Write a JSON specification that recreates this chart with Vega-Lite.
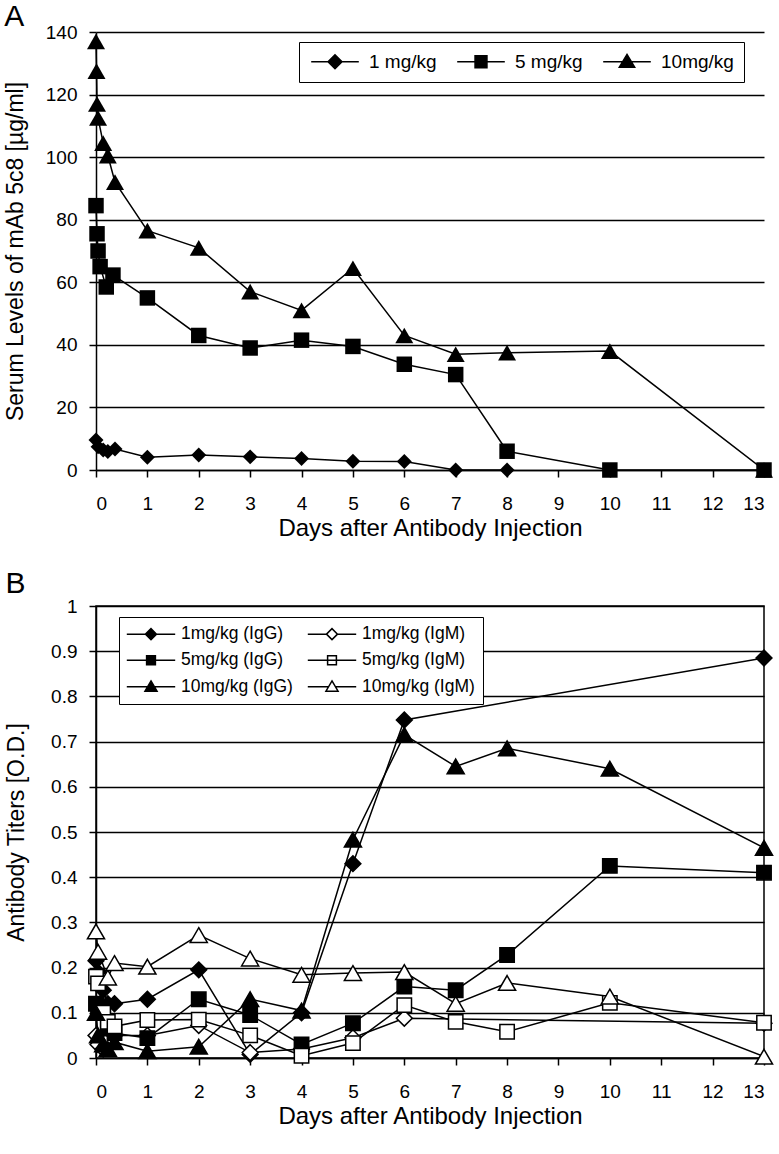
{
  "$schema": "https://vega.github.io/schema/vega-lite/v6.json",
  "background": "white",
  "padding": {"left": 4, "right": 9, "top": 2, "bottom": 0},
  "spacing": 28,
  "resolve": {
    "scale": {"shape": "independent", "fill": "independent"},
    "legend": {"shape": "independent", "fill": "independent"}
  },
  "config": {
    "font": "Liberation Sans",
    "view": {"stroke": null},
    "axis": {
      "labelFont": "Liberation Sans", "titleFont": "Liberation Sans",
      "labelColor": "black", "titleColor": "black",
      "labelFontSize": 19, "titleFontSize": 23, "titleFontWeight": "normal",
      "domainColor": "black", "domainWidth": 1.5,
      "tickColor": "black", "tickWidth": 1.5, "tickSize": 7,
      "gridColor": "black", "gridWidth": 1.3, "gridOpacity": 1
    },
    "legend": {"labelFont": "Liberation Sans", "labelColor": "black"},
    "title": {"font": "Liberation Sans", "fontWeight": "normal", "color": "black", "anchor": "start", "frame": "bounds", "fontSize": 30}
  },
  "datasets": {
    "serum": [
      {"dose": "1 mg/kg", "day": 0, "level": 9.6},
      {"dose": "1 mg/kg", "day": 0.04, "level": 7.4},
      {"dose": "1 mg/kg", "day": 0.14, "level": 6.4},
      {"dose": "1 mg/kg", "day": 0.23, "level": 5.9},
      {"dose": "1 mg/kg", "day": 0.37, "level": 6.7},
      {"dose": "1 mg/kg", "day": 1, "level": 4.1},
      {"dose": "1 mg/kg", "day": 2, "level": 4.8},
      {"dose": "1 mg/kg", "day": 3, "level": 4.2},
      {"dose": "1 mg/kg", "day": 4, "level": 3.7},
      {"dose": "1 mg/kg", "day": 5, "level": 2.8},
      {"dose": "1 mg/kg", "day": 6, "level": 2.7},
      {"dose": "1 mg/kg", "day": 7, "level": 0},
      {"dose": "1 mg/kg", "day": 8, "level": 0},
      {"dose": "5 mg/kg", "day": 0, "level": 84.5},
      {"dose": "5 mg/kg", "day": 0.02, "level": 75.5},
      {"dose": "5 mg/kg", "day": 0.04, "level": 70},
      {"dose": "5 mg/kg", "day": 0.08, "level": 65},
      {"dose": "5 mg/kg", "day": 0.2, "level": 58.5},
      {"dose": "5 mg/kg", "day": 0.33, "level": 62.3},
      {"dose": "5 mg/kg", "day": 1, "level": 55},
      {"dose": "5 mg/kg", "day": 2, "level": 43},
      {"dose": "5 mg/kg", "day": 3, "level": 39},
      {"dose": "5 mg/kg", "day": 4, "level": 41.5},
      {"dose": "5 mg/kg", "day": 5, "level": 39.5},
      {"dose": "5 mg/kg", "day": 6, "level": 33.8},
      {"dose": "5 mg/kg", "day": 7, "level": 30.5},
      {"dose": "5 mg/kg", "day": 8, "level": 6},
      {"dose": "5 mg/kg", "day": 10, "level": 0},
      {"dose": "5 mg/kg", "day": 13, "level": 0},
      {"dose": "10mg/kg", "day": 0, "level": 137},
      {"dose": "10mg/kg", "day": 0.01, "level": 127.5},
      {"dose": "10mg/kg", "day": 0.02, "level": 117},
      {"dose": "10mg/kg", "day": 0.04, "level": 112.5},
      {"dose": "10mg/kg", "day": 0.14, "level": 104.5},
      {"dose": "10mg/kg", "day": 0.23, "level": 100.5},
      {"dose": "10mg/kg", "day": 0.37, "level": 92},
      {"dose": "10mg/kg", "day": 1, "level": 76.5},
      {"dose": "10mg/kg", "day": 2, "level": 71},
      {"dose": "10mg/kg", "day": 3, "level": 57},
      {"dose": "10mg/kg", "day": 4, "level": 51},
      {"dose": "10mg/kg", "day": 5, "level": 64.5},
      {"dose": "10mg/kg", "day": 6, "level": 43},
      {"dose": "10mg/kg", "day": 7, "level": 37},
      {"dose": "10mg/kg", "day": 8, "level": 37.5},
      {"dose": "10mg/kg", "day": 10, "level": 38},
      {"dose": "10mg/kg", "day": 13, "level": 0}
    ],
    "titers": [
      {"group": "1mg/kg (IgG)", "day": 0, "od": 0.215},
      {"group": "1mg/kg (IgG)", "day": 0.04, "od": 0.19},
      {"group": "1mg/kg (IgG)", "day": 0.14, "od": 0.15},
      {"group": "1mg/kg (IgG)", "day": 0.23, "od": 0.12},
      {"group": "1mg/kg (IgG)", "day": 0.36, "od": 0.12},
      {"group": "1mg/kg (IgG)", "day": 1, "od": 0.13},
      {"group": "1mg/kg (IgG)", "day": 2, "od": 0.195},
      {"group": "1mg/kg (IgG)", "day": 3, "od": 0.008},
      {"group": "1mg/kg (IgG)", "day": 4, "od": 0.1},
      {"group": "1mg/kg (IgG)", "day": 5, "od": 0.43},
      {"group": "1mg/kg (IgG)", "day": 6, "od": 0.748},
      {"group": "1mg/kg (IgG)", "day": 13, "od": 0.885},
      {"group": "1mg/kg (IgM)", "day": 0, "od": 0.05},
      {"group": "1mg/kg (IgM)", "day": 0.04, "od": 0.03},
      {"group": "1mg/kg (IgM)", "day": 0.14, "od": 0.02},
      {"group": "1mg/kg (IgM)", "day": 0.23, "od": 0.04},
      {"group": "1mg/kg (IgM)", "day": 0.36, "od": 0.05},
      {"group": "1mg/kg (IgM)", "day": 1, "od": 0.05},
      {"group": "1mg/kg (IgM)", "day": 2, "od": 0.072},
      {"group": "1mg/kg (IgM)", "day": 3, "od": 0.012},
      {"group": "1mg/kg (IgM)", "day": 4, "od": 0.02},
      {"group": "1mg/kg (IgM)", "day": 5, "od": 0.045},
      {"group": "1mg/kg (IgM)", "day": 6, "od": 0.088},
      {"group": "1mg/kg (IgM)", "day": 13, "od": 0.077},
      {"group": "5mg/kg (IgG)", "day": 0, "od": 0.12},
      {"group": "5mg/kg (IgG)", "day": 0.04, "od": 0.1},
      {"group": "5mg/kg (IgG)", "day": 0.14, "od": 0.11},
      {"group": "5mg/kg (IgG)", "day": 0.23, "od": 0.065},
      {"group": "5mg/kg (IgG)", "day": 0.36, "od": 0.055},
      {"group": "5mg/kg (IgG)", "day": 1, "od": 0.044},
      {"group": "5mg/kg (IgG)", "day": 2, "od": 0.13},
      {"group": "5mg/kg (IgG)", "day": 3, "od": 0.095},
      {"group": "5mg/kg (IgG)", "day": 4, "od": 0.03},
      {"group": "5mg/kg (IgG)", "day": 5, "od": 0.077},
      {"group": "5mg/kg (IgG)", "day": 6, "od": 0.158},
      {"group": "5mg/kg (IgG)", "day": 7, "od": 0.15},
      {"group": "5mg/kg (IgG)", "day": 8, "od": 0.228},
      {"group": "5mg/kg (IgG)", "day": 10, "od": 0.425},
      {"group": "5mg/kg (IgG)", "day": 13, "od": 0.41},
      {"group": "5mg/kg (IgM)", "day": 0, "od": 0.18},
      {"group": "5mg/kg (IgM)", "day": 0.04, "od": 0.165},
      {"group": "5mg/kg (IgM)", "day": 0.14, "od": 0.1},
      {"group": "5mg/kg (IgM)", "day": 0.23, "od": 0.08},
      {"group": "5mg/kg (IgM)", "day": 0.36, "od": 0.07},
      {"group": "5mg/kg (IgM)", "day": 1, "od": 0.084},
      {"group": "5mg/kg (IgM)", "day": 2, "od": 0.085},
      {"group": "5mg/kg (IgM)", "day": 3, "od": 0.05},
      {"group": "5mg/kg (IgM)", "day": 4, "od": 0.005},
      {"group": "5mg/kg (IgM)", "day": 5, "od": 0.033},
      {"group": "5mg/kg (IgM)", "day": 6, "od": 0.117},
      {"group": "5mg/kg (IgM)", "day": 7, "od": 0.08},
      {"group": "5mg/kg (IgM)", "day": 8, "od": 0.058},
      {"group": "5mg/kg (IgM)", "day": 10, "od": 0.122},
      {"group": "5mg/kg (IgM)", "day": 13, "od": 0.078},
      {"group": "10mg/kg (IgG)", "day": 0, "od": 0.1},
      {"group": "10mg/kg (IgG)", "day": 0.04, "od": 0.05},
      {"group": "10mg/kg (IgG)", "day": 0.14, "od": 0.03},
      {"group": "10mg/kg (IgG)", "day": 0.23, "od": 0.02},
      {"group": "10mg/kg (IgG)", "day": 0.36, "od": 0.035},
      {"group": "10mg/kg (IgG)", "day": 1, "od": 0.015},
      {"group": "10mg/kg (IgG)", "day": 2, "od": 0.025},
      {"group": "10mg/kg (IgG)", "day": 3, "od": 0.13},
      {"group": "10mg/kg (IgG)", "day": 4, "od": 0.105},
      {"group": "10mg/kg (IgG)", "day": 5, "od": 0.483},
      {"group": "10mg/kg (IgG)", "day": 6, "od": 0.715},
      {"group": "10mg/kg (IgG)", "day": 7, "od": 0.645},
      {"group": "10mg/kg (IgG)", "day": 8, "od": 0.685},
      {"group": "10mg/kg (IgG)", "day": 10, "od": 0.64},
      {"group": "10mg/kg (IgG)", "day": 13, "od": 0.465},
      {"group": "10mg/kg (IgM)", "day": 0, "od": 0.28},
      {"group": "10mg/kg (IgM)", "day": 0.04, "od": 0.235},
      {"group": "10mg/kg (IgM)", "day": 0.23, "od": 0.178},
      {"group": "10mg/kg (IgM)", "day": 0.36, "od": 0.21},
      {"group": "10mg/kg (IgM)", "day": 1, "od": 0.202},
      {"group": "10mg/kg (IgM)", "day": 2, "od": 0.272},
      {"group": "10mg/kg (IgM)", "day": 3, "od": 0.22},
      {"group": "10mg/kg (IgM)", "day": 4, "od": 0.184},
      {"group": "10mg/kg (IgM)", "day": 5, "od": 0.188},
      {"group": "10mg/kg (IgM)", "day": 6, "od": 0.19},
      {"group": "10mg/kg (IgM)", "day": 7, "od": 0.12},
      {"group": "10mg/kg (IgM)", "day": 8, "od": 0.166},
      {"group": "10mg/kg (IgM)", "day": 10, "od": 0.136},
      {"group": "10mg/kg (IgM)", "day": 13, "od": 0.003}
    ]
  },
  "vconcat": [
    {
      "title": {"text": "A", "offset": -9},
      "width": 668,
      "height": 438,
      "data": {"name": "serum"},
      "encoding": {
        "x": {"field": "day", "type": "quantitative",
          "scale": {"domain": [0, 13], "nice": false, "zero": false},
          "axis": {"values": [0,1,2,3,4,5,6,7,8,9,10,11,12,13], "format": "d", "grid": false, "labelPadding": 17, "title": "Days after Antibody Injection", "titlePadding": 3, "titleFontSize": 24}},
        "y": {"field": "level", "type": "quantitative",
          "scale": {"domain": [0, 140], "nice": false},
          "axis": {"values": [0,20,40,60,80,100,120,140], "grid": true, "labelPadding": 12, "title": "Serum Levels of mAb 5c8 [µg/ml]", "titlePadding": 18}}
      },
      "layer": [
        {"mark": {"type": "line", "color": "black", "strokeWidth": 1.5},
         "encoding": {"detail": {"field": "dose", "type": "nominal"}}},
        {"mark": {"type": "point", "filled": true, "color": "black", "opacity": 1, "size": 324},
         "encoding": {
           "shape": {"condition": [
             {"test": "datum.dose === '1 mg/kg'", "value": "M0,-0.83L0.83,0L0,0.83L-0.83,0Z"},
             {"test": "datum.dose === '5 mg/kg'", "value": "M-0.86,-0.86H0.86V0.86H-0.86Z"}
           ], "value": "M0,-0.87L1,0.87H-1Z"}
         }},
        {"transform": [{"filter": "datum.day < 0"}],
         "mark": {"type": "point", "filled": true, "fill": "black", "stroke": "black", "strokeWidth": 1.5, "opacity": 1},
         "encoding": {
           "shape": {"field": "dose", "type": "nominal",
             "scale": {"domain": ["1 mg/kg", "5 mg/kg", "10mg/kg"], "range": ["M-3.4,0H-1M1,0H3.4M-1,0L0,-1L1,0L0,1Z", "M-3.4,0H3.4M-0.85,-0.85H0.85V0.85H-0.85Z", "M-3.4,0H-0.6M0.6,0H3.4M0,-1.05L1.1,0.8H-1.1Z"]},
             "legend": {
               "title": null, "orient": "none", "legendX": 203, "legendY": 10,
               "direction": "horizontal", "symbolSize": 196, "symbolStrokeWidth": 1.5,
               "symbolOffset": 16.5, "labelOffset": 24.5, "labelFontSize": 19, "columnPadding": 17,
               "padding": 10, "strokeColor": "black", "fillColor": "white"
             }}
         }}
      ]
    },
    {
      "title": {"text": "B", "offset": -2},
      "width": 668,
      "height": 452,
      "view": {"stroke": "black", "strokeWidth": 1.5},
      "data": {"name": "titers"},
      "encoding": {
        "x": {"field": "day", "type": "quantitative",
          "scale": {"domain": [0, 13], "nice": false, "zero": false},
          "axis": {"values": [0,1,2,3,4,5,6,7,8,9,10,11,12,13], "format": "d", "grid": false, "labelPadding": 17, "title": "Days after Antibody Injection", "titlePadding": 3, "titleFontSize": 24}},
        "y": {"field": "od", "type": "quantitative",
          "scale": {"domain": [0, 1], "nice": false},
          "axis": {"values": [0,0.1,0.2,0.3,0.4,0.5,0.6,0.7,0.8,0.9,1], "format": "~f", "grid": true, "labelPadding": 12, "title": "Antibody Titers [O.D.]", "titlePadding": 22}}
      },
      "layer": [
        {"mark": {"type": "line", "color": "black", "strokeWidth": 1.5},
         "encoding": {"detail": {"field": "group", "type": "nominal"}}},
        {"mark": {"type": "point", "filled": true, "stroke": "black", "strokeWidth": 1.5, "opacity": 1, "size": 324},
         "encoding": {
           "fill": {"condition": {"test": "indexof(datum.group, 'IgM') >= 0", "value": "white"}, "value": "black"},
           "shape": {"condition": [
             {"test": "indexof(datum.group, '1mg') === 0", "value": "M0,-0.88L0.88,0L0,0.88L-0.88,0Z"},
             {"test": "indexof(datum.group, '5mg') === 0", "value": "M-0.8,-0.8H0.8V0.8H-0.8Z"}
           ], "value": "M0,-0.82L0.95,0.82H-0.95Z"}
         }},
        {"transform": [{"filter": "datum.day < 0"}],
         "mark": {"type": "point", "filled": true, "stroke": "black", "strokeWidth": 1.5, "opacity": 1},
         "encoding": {
           "fill": {"field": "group", "type": "nominal",
             "scale": {"domain": ["1mg/kg (IgG)", "5mg/kg (IgG)", "10mg/kg (IgG)", "1mg/kg (IgM)", "5mg/kg (IgM)", "10mg/kg (IgM)"], "range": ["black", "black", "black", "white", "white", "white"]},
             "legend": {
               "title": null, "orient": "none", "legendX": 23, "legendY": 11, "columns": 2,
               "symbolSize": 121, "symbolStrokeWidth": 1.5,
               "symbolOffset": 15.25, "labelOffset": 21.25, "labelFontSize": 17.5, "rowPadding": 7.5, "columnPadding": 11,
               "padding": 8, "strokeColor": "black", "fillColor": "white", "labelLimit": 300
             }},
           "shape": {"field": "group", "type": "nominal",
             "scale": {"domain": ["1mg/kg (IgG)", "5mg/kg (IgG)", "10mg/kg (IgG)", "1mg/kg (IgM)", "5mg/kg (IgM)", "10mg/kg (IgM)"], "range": ["M-4.4,0H-1M1,0H4.4M-1,0L0,-1L1,0L0,1Z", "M-4.4,0H4.4M-0.8,-0.8H0.8V0.8H-0.8Z", "M-4.4,0H-0.6M0.6,0H4.4M0,-1.05L1.1,0.8H-1.1Z", "M-4.4,0H-1M1,0H4.4M-1,0L0,-1L1,0L0,1Z", "M-4.4,0H4.4M-0.8,-0.8H0.8V0.8H-0.8Z", "M-4.4,0H-0.6M0.6,0H4.4M0,-1.05L1.1,0.8H-1.1Z"]},
             "legend": {
               "title": null, "orient": "none", "legendX": 23, "legendY": 11, "columns": 2,
               "symbolSize": 121, "symbolStrokeWidth": 1.5,
               "symbolOffset": 15.25, "labelOffset": 21.25, "labelFontSize": 17.5, "rowPadding": 7.5, "columnPadding": 11,
               "padding": 8, "strokeColor": "black", "fillColor": "white", "labelLimit": 300
             }}
         }}
      ]
    }
  ]
}
